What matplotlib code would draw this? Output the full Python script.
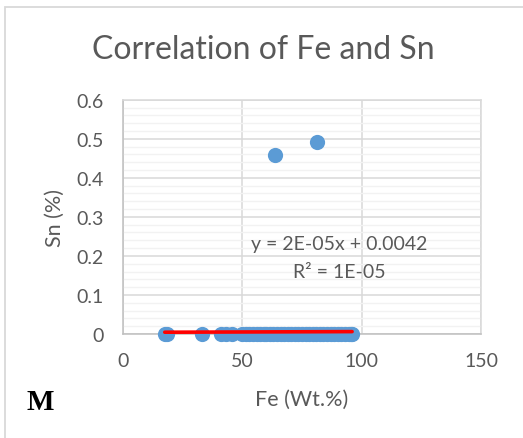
import matplotlib
matplotlib.use("Agg")
import matplotlib.pyplot as plt
from matplotlib.patches import Rectangle
from matplotlib.ticker import MultipleLocator

# Fe content (Wt.%) and Sn content (%) of the analysed spots
fe_values = [17.5, 18.5, 33.0, 41.0, 43.0, 45.5, 50.0, 51.5, 53.0, 54.5,
             56.0, 57.5, 59.0, 60.0, 61.5, 63.0, 64.5, 66.0, 67.5, 69.0,
             70.5, 72.0, 73.5, 75.0, 76.5, 78.0, 79.5, 81.0, 82.5, 84.0,
             85.5, 87.0, 88.5, 90.0, 91.5, 93.0, 94.5, 95.5, 96.0,
             63.7, 81.4]
sn_values = [0.0] * 39 + [0.458, 0.491]

# Linear trendline reported for the data
slope = 2e-05
intercept = 0.0042
trend_x = [17.5, 96.0]
equation_text = "y = 2E-05x + 0.0042"
r2_text = "R² = 1E-05"

x_ticks = [0, 50, 100, 150]
y_ticks = [0, 0.1, 0.2, 0.3, 0.4, 0.5, 0.6]
y_tick_labels = ["0", "0.1", "0.2", "0.3", "0.4", "0.5", "0.6"]

W, H = 523, 439
fig = plt.figure(figsize=(W / 100, H / 100), dpi=100)
plt.rcParams["font.family"] = ["Lato", "DejaVu Sans"]

text_color = "#595959"
grid_major = "#D9D9D9"
grid_minor = "#F2F2F2"

# chart frame
fig.patches.append(Rectangle((5 / W, -0.1), 1.2, (H - 8) / H + 0.1,
                             transform=fig.transFigure, fill=False,
                             edgecolor="#D9D9D9", linewidth=1.3))

ax = fig.add_axes([123 / W, (H - 335) / H, 358 / W, 234.3 / H])
ax.set_xlim(0, 150)
ax.set_ylim(0, 0.6)
ax.set_xticks(x_ticks)
ax.set_yticks(y_ticks)
ax.set_yticklabels(y_tick_labels)
ax.yaxis.set_minor_locator(MultipleLocator(0.02))

ax.grid(which="major", color=grid_major, linewidth=1.1, zorder=0)
ax.grid(which="minor", axis="y", color=grid_minor, linewidth=1.0, zorder=0)
ax.set_axisbelow(True)

for side in ["top", "right"]:
    ax.spines[side].set_color(grid_major)
    ax.spines[side].set_linewidth(1.1)
for side in ["left", "bottom"]:
    ax.spines[side].set_color("#BFBFBF")
    ax.spines[side].set_linewidth(1.1)

ax.tick_params(which="both", length=0, colors=text_color, labelsize=14)
ax.tick_params(axis="x", pad=13)
ax.tick_params(axis="y", pad=14)

ax.scatter(fe_values, sn_values, s=120, color="#5B9BD5", linewidths=0,
           zorder=3, clip_on=False)

trend_y = [slope * x + intercept for x in trend_x]
ax.plot(trend_x, trend_y, color="#FF0000", linewidth=2.6, zorder=4,
        solid_capstyle="round")

ax.text(90.5, 0.2305, equation_text, ha="center", va="center",
        fontsize=14, color=text_color)
ax.text(90.5, 0.159, r2_text, ha="center", va="center",
        fontsize=14, color=text_color)

ax.set_xlabel("Fe (Wt.%)", fontsize=15.5, color=text_color)
ax.set_ylabel("Sn (%)", fontsize=15.5, color=text_color)
ax.xaxis.label.set_va("center")
ax.yaxis.label.set_va("center")
ax.xaxis.set_label_coords(302 / W, 1 - 400 / H, transform=fig.transFigure)
ax.yaxis.set_label_coords(55 / W, 1 - 218 / H, transform=fig.transFigure)

fig.text(263 / W, 1 - 50 / H, "Correlation of Fe and Sn", ha="center",
         va="center", fontsize=23, color=text_color)

fig.text(40 / W, 1 - 403 / H, "M", ha="center", va="center",
         fontsize=21, color="black", family="Liberation Serif",
         fontweight="bold")

fig.savefig("out.png", dpi=100)
